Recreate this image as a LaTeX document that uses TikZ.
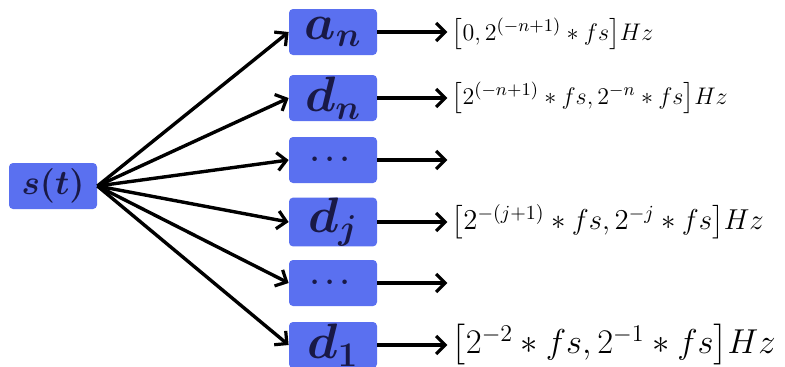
\documentclass[tikz,border=0pt]{standalone}
\usepackage{amsmath, amssymb}
\usepackage{tikz}
\usetikzlibrary{arrows.meta}
\usepackage{xcolor}
\definecolor{boxblue}{RGB}{90,112,240}
\definecolor{boxtext}{RGB}{25,25,70}
\tikzset{
  band/.style={fill=boxblue, rounded corners=2pt, minimum width=44pt, minimum height=23pt,
    inner sep=0pt, text=boxtext, font=\fontsize{25}{28}\selectfont\boldmath},
  link/.style={line width=1.7pt, -{Straight Barb[length=4.5pt,width=9pt,line width=1.6pt]}},
  freq/.style={anchor=west, inner sep=0pt, font=\fontsize{13}{15}\selectfont},
}

\begin{document}
\begin{tikzpicture}[x=0.5pt, y=-0.5pt]
  \useasboundingbox (0,0) rectangle (785,366);
  \node[band, font=\fontsize{16}{18}\selectfont\boldmath] (s) at (53,186) {$s(t)$};
  \node[band] (an) at (333,32) {$a_n$};
  \node[band] (dn) at (333,98) {$d_n$};
  \node[band, font=\fontsize{14}{16}\selectfont\boldmath] (m1) at (333,160) {$\cdots$};
  \node[band] (dj) at (333,222) {$d_j$};
  \node[band, font=\fontsize{14}{16}\selectfont\boldmath] (m2) at (333,283) {$\cdots$};
  \node[band] (d1) at (333,345) {$d_1$};
  % outputs
  \foreach \b in {an, dn, m1, dj, m2, d1} {
    \draw[link] (s.east) -- (\b.west);
    \coordinate (\b o) at ([xshift=35pt]\b.east);
    \draw[link] (\b.east) -- (\b o);
  }
  \node[freq] (fan) at ([xshift=2pt,yshift=-1pt]ano) {$\bigl[0,2^{(-n+1)}*fs\bigr]Hz$};
  \node[freq] (fdn) at ([xshift=2pt]dno) {$\bigl[2^{(-n+1)}*fs,2^{-n}*fs\bigr]Hz$};
  \node[freq, font=\fontsize{14}{16}\selectfont] (fdj) at ([xshift=2pt]djo) {$\bigl[2^{-(j+1)}*fs,2^{-j}*fs\bigr]Hz$};
  \node[freq, font=\fontsize{17}{19}\selectfont] (fd1) at ([xshift=2pt]d1o) {$\bigl[2^{-2}*fs,2^{-1}*fs\bigr]Hz$};
\end{tikzpicture}
\end{document}
